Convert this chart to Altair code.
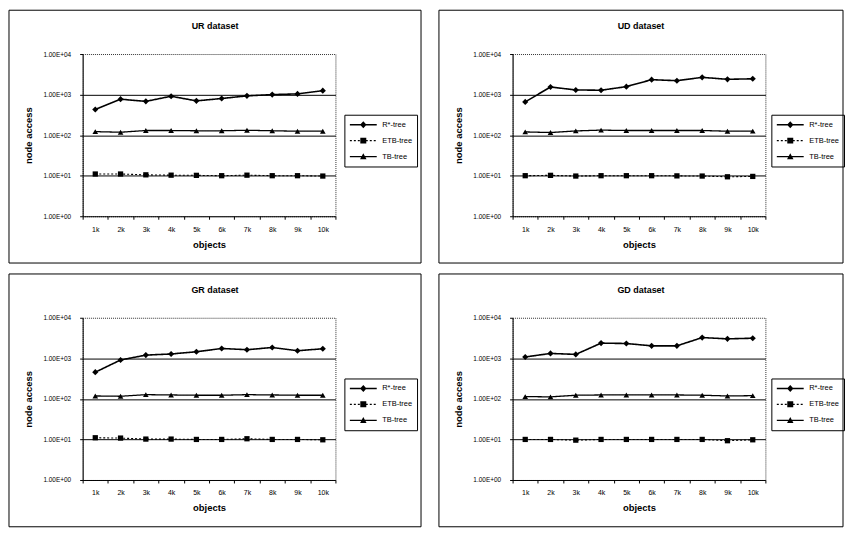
import altair as alt
import pandas as pd

objects = ["1k", "2k", "3k", "4k", "5k", "6k", "7k", "8k", "9k", "10k"]
series = ["R*-tree", "ETB-tree", "TB-tree"]
y_ticks = [1, 10, 100, 1000, 10000]

ur_rstar = [430, 770, 680, 910, 700, 800, 930, 1000, 1040, 1250]
ur_etb = [11, 11, 10.5, 10.3, 10.2, 10, 10.3, 10, 10, 9.8]
ur_tb = [122, 118, 130, 130, 128, 128, 132, 128, 125, 125]

ud_rstar = [660, 1540, 1300, 1280, 1570, 2330, 2200, 2660, 2380, 2450]
ud_etb = [10, 10.2, 9.8, 10, 10, 10, 9.9, 9.8, 9.4, 9.6]
ud_tb = [120, 116, 127, 133, 130, 130, 130, 130, 125, 126]

gr_rstar = [455, 910, 1200, 1280, 1450, 1750, 1630, 1850, 1540, 1720]
gr_etb = [11, 10.8, 10.2, 10.2, 10, 10, 10.4, 10, 10, 9.8]
gr_tb = [118, 116, 127, 125, 123, 123, 127, 125, 123, 123]

gd_rstar = [1080, 1320, 1250, 2370, 2320, 2030, 2030, 3250, 3020, 3130]
gd_etb = [10, 10, 9.6, 10, 10, 10, 10, 10, 9.3, 9.8]
gd_tb = [114, 112, 123, 125, 125, 125, 125, 123, 118, 120]

FONT = "Liberation Sans"
W, H = 254, 163
TOP, BOTTOM, LEFT = 44, 47, 74

styles = {
    "R*-tree": dict(shape="diamond", size=38, dash=[1, 0], width=1.6),
    "ETB-tree": dict(shape="square", size=28, dash=[2, 2], width=1.1),
    "TB-tree": dict(shape="triangle-up", size=32, dash=[1, 0], width=1.3),
}


def seg(x0, x1, h):
    return f"M{x0},{-h}L{x1},{-h}L{x1},{h}L{x0},{h}Z"


# legend glyphs: filled line segment(s) + marker, in symbol units
legend_paths = [
    seg(-2.7, 2.7, 0.16) + "M0,-0.7L0.65,0L0,0.7L-0.65,0Z",
    "".join(seg(round(-2.7 + 0.8 * i, 2), round(-2.3 + 0.8 * i, 2), 0.11) for i in range(7))
    + "M-0.6,-0.6L0.6,-0.6L0.6,0.6L-0.6,0.6Z",
    seg(-2.7, 2.7, 0.13) + "M0,-0.65L0.65,0.55L-0.65,0.55Z",
]


def panel(title, rstar, etb, tb, right_ext, legend_x):
    rows = []
    for name, vals in zip(series, [rstar, etb, tb]):
        for o, v in zip(objects, vals):
            rows.append({"objects": o, "series": name, "value": v})
    df = pd.DataFrame(rows)
    base = alt.Chart(df)

    x = alt.X(
        "objects:N",
        sort=objects,
        bandPosition=0.5,
        scale=alt.Scale(type="band", paddingInner=0, paddingOuter=0),
        axis=alt.Axis(
            title="objects", labelAngle=0, tickBand="extent", tickSize=3,
            tickColor="black", domainColor="black", labelPadding=6,
            labelFontSize=7, labelColor="black", titleFontSize=9.5,
            titleFontWeight="bold", titlePadding=7, grid=False,
        ),
    )
    y = alt.Y(
        "value:Q",
        scale=alt.Scale(type="log", domain=[1, 10000]),
        axis=alt.Axis(
            title="node access", values=y_ticks,
            labelExpr="'1.00E+0' + round(log(datum.value) / LN10)",
            grid=True, gridColor="black", gridWidth=1,
            gridOpacity={"condition": {"test": "datum.value >= 10000 || datum.value <= 1", "value": 0}, "value": 1},
            tickSize=3, tickColor="black", domainColor="black", labelPadding=9,
            labelFontSize=6.5, labelColor="black", titleFontSize=9.5,
            titleFontWeight="bold", titlePadding=9,
        ),
    )

    layers = []
    frame = alt.Chart(alt.Data(values=[{"f": 1}])).mark_rect(
        fill="transparent", stroke="black", strokeWidth=1
    ).encode(
        x=alt.value(-LEFT), x2=alt.value(W + right_ext),
        y=alt.value(-TOP), y2=alt.value(H + BOTTOM),
    )
    title_mark = alt.Chart(alt.Data(values=[{"t": title}])).mark_text(
        font=FONT, fontSize=9, fontWeight="bold", color="black", baseline="middle", align="center"
    ).encode(
        text="t:N",
        x=alt.value((W + right_ext - LEFT) / 2),
        y=alt.value(-28),
    )
    layers += [frame, title_mark]
    for name in series:
        st = styles[name]
        sub = base.transform_filter(alt.datum.series == name)
        layers.append(
            sub.mark_line(color="black", strokeDash=st["dash"], strokeWidth=st["width"]).encode(x=x, y=y)
        )
        layers.append(
            sub.mark_point(filled=True, color="black", opacity=1, shape=st["shape"], size=st["size"]).encode(x=x, y=y)
        )
    legend_marks = base.transform_filter("false").mark_point(
        filled=True, color="black", opacity=1
    ).encode(
        x=x, y=y,
        shape=alt.Shape(
            "series:N",
            scale=alt.Scale(domain=series, range=legend_paths),
            legend=alt.Legend(
                title=None, orient="none", legendX=legend_x, legendY=61,
                strokeColor="black", padding=4, symbolSize=100, symbolOffset=9,
                labelOffset=13, labelFontSize=7.5, labelColor="black",
                rowPadding=3, symbolFillColor="black", symbolOpacity=1,
            ),
        ),
    )
    layers.append(legend_marks)
    return alt.layer(*layers).properties(width=W, height=H)


def row(a, b):
    return alt.hconcat(a, b, spacing=16).resolve_scale(
        shape="independent"
    ).resolve_legend(shape="independent")


top = row(
    panel("UR dataset", ur_rstar, ur_etb, ur_tb, 86, W + 9),
    panel("UD dataset", ud_rstar, ud_etb, ud_tb, 78, W + 6),
)
bottom = row(
    panel("GR dataset", gr_rstar, gr_etb, gr_tb, 86, W + 9),
    panel("GD dataset", gd_rstar, gd_etb, gd_tb, 78, W + 6),
)
chart = alt.vconcat(top, bottom, spacing=9).resolve_scale(
    shape="independent"
).resolve_legend(
    shape="independent"
).configure(
    padding=0, font=FONT
).configure_view(
    stroke="#333333", strokeDash=[1, 1], strokeWidth=1
).configure_axis(
    labelFont=FONT, titleFont=FONT
).configure_legend(
    labelFont=FONT
)

chart.save("out.html", embed_options={"renderer": "svg", "actions": False})
